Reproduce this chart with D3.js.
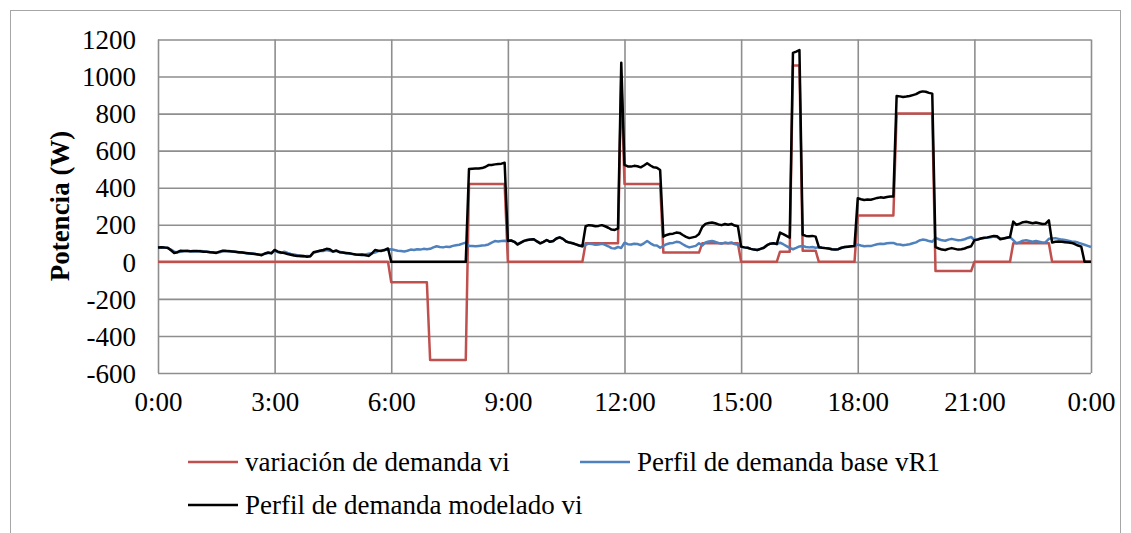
<!DOCTYPE html>
<html>
<head>
<meta charset="utf-8">
<script src="https://cdn.jsdelivr.net/npm/d3@7/dist/d3.min.js"></script>
<style>
  body { margin: 0; background: #fff; }
  svg text { font-family: "Liberation Serif", "Times New Roman", Times, Tinos, "DejaVu Serif", serif; }
</style>
</head>
<body>
<svg></svg>
<script>
var screenWidth = 1131
var screenHeight = 533

// one value every 5 minutes, 0:00 .. 24:00 (12 values per row = one hour)
var minutes = d3.range(0, 1441, 5)

var variacion = [
  0,0,0,0,0,0,0,0,0,0,0,0,
  0,0,0,0,0,0,0,0,0,0,0,0,
  0,0,0,0,0,0,0,0,0,0,0,0,
  0,0,0,0,0,0,0,0,0,0,0,0,
  0,0,0,0,0,0,0,0,0,0,0,0,
  0,0,0,0,0,0,0,0,0,0,0,0,
  -110,-110,-110,-110,-110,-110,-110,-110,-110,-110,-110,-110,
  -530,-530,-530,-530,-530,-530,-530,-530,-530,-530,-530,-530,
  420,420,420,420,420,420,420,420,420,420,420,420,
  0,0,0,0,0,0,0,0,0,0,0,0,
  0,0,0,0,0,0,0,0,0,0,0,0,
  100,100,100,100,100,100,100,100,100,100,100,1000,
  420,420,420,420,420,420,420,420,420,420,420,420,
  50,50,50,50,50,50,50,50,50,50,50,50,
  100,100,100,100,100,100,100,100,100,100,100,100,
  0,0,0,0,0,0,0,0,0,0,0,0,
  55,55,55,55,1060,1060,1060,60,60,60,60,60,
  0,0,0,0,0,0,0,0,0,0,0,0,
  250,250,250,250,250,250,250,250,250,250,250,250,
  800,800,800,800,800,800,800,800,800,800,800,800,
  -50,-50,-50,-50,-50,-50,-50,-50,-50,-50,-50,-50,
  0,0,0,0,0,0,0,0,0,0,0,0,
  100,100,100,100,100,100,100,100,100,100,100,100,
  0,0,0,0,0,0,0,0,0,0,0,0,
  0
]

var perfilBase = [
  76,78,78,74,66,55,52,55,58,60,57,56,
  56,58,57,55,53,52,50,52,58,60,58,56,
  53,50,52,48,44,46,42,38,40,44,48,47,
  60,52,48,55,48,42,40,36,30,28,32,30,
  48,54,60,58,64,60,55,62,54,50,46,45,
  42,40,38,36,40,44,46,50,58,62,64,66,
  68,64,60,58,56,60,66,64,68,66,70,68,
  70,78,84,80,78,82,80,86,90,92,98,104,
  86,86,84,86,88,90,94,104,112,110,112,114,
  113,115,108,94,104,113,118,120,122,110,100,108,
  118,108,112,126,132,124,110,104,100,94,88,84,
  92,98,96,92,94,98,92,84,74,72,80,75,
  103,95,94,98,96,90,100,112,100,90,88,76,
  86,95,100,102,108,106,95,85,78,82,86,100,
  88,105,110,112,108,102,98,104,100,105,96,92,
  82,78,76,70,66,64,70,76,90,98,100,96,
  103,95,85,75,68,75,83,86,80,78,80,76,
  79,76,74,72,68,66,68,76,80,82,84,86,
  93,88,84,86,85,90,95,98,96,100,102,102,
  95,93,90,92,95,100,105,115,120,118,112,108,
  129,122,116,114,120,124,120,116,118,122,129,134,
  118,122,126,128,130,133,136,134,126,126,130,133,
  117,100,106,114,116,112,108,112,108,104,106,124,
  126,128,124,120,118,114,110,108,104,98,92,86,
  80
]

var perfilModelado = [
  78,79,77,76,62,48,52,60,58,58,57,58,
  58,57,55,54,52,50,48,55,60,58,57,56,
  54,52,50,48,46,44,42,40,36,45,50,46,
  64,55,50,47,42,38,34,32,33,31,28,30,
  52,56,60,64,70,68,56,60,52,50,48,46,
  43,40,38,40,36,32,45,64,60,59,64,72,
  0,0,0,0,0,0,0,0,0,0,0,0,
  0,0,0,0,0,0,0,0,0,0,0,0,
  501,503,504,504,506,512,522,523,526,528,530,535,
  113,115,108,94,104,113,118,120,122,110,100,108,
  118,108,112,126,132,124,110,104,100,94,88,84,
  192,198,196,192,194,198,192,184,174,172,180,1075,
  523,515,514,518,516,510,520,532,520,510,508,496,
  136,145,150,152,158,156,145,135,128,132,136,150,
  188,205,210,212,208,202,198,204,200,205,196,192,
  82,78,76,70,66,64,70,76,90,98,100,96,
  158,150,140,130,1128,1135,1143,146,140,138,140,136,
  79,76,74,72,68,66,68,76,80,82,84,86,
  343,338,334,336,335,340,345,348,346,350,352,352,
  895,893,890,892,895,900,905,915,920,918,912,908,
  79,72,66,64,70,74,70,66,68,72,79,84,
  116,120,126,130,132,136,140,138,122,126,130,134,
  217,200,206,214,216,212,208,212,208,204,206,224,
  104,108,110,108,106,104,102,96,88,82,0,0,
  0
]

var yTicks = [-600, -400, -200, 0, 200, 400, 600, 800, 1000, 1200]
var xTicks = [0, 180, 360, 540, 720, 900, 1080, 1260, 1440]
var xTickLabels = ["0:00", "3:00", "6:00", "9:00", "12:00", "15:00", "18:00", "21:00", "0:00"]

var series = [
  {name: "variación de demanda vi", values: variacion, color: "#c0504d"},
  {name: "Perfil de demanda base vR1", values: perfilBase, color: "#4f81bd"},
  {name: "Perfil de demanda modelado vi", values: perfilModelado, color: "#000000"}
]

var gridColor = "#8e8e8e"
var fontSize = 27
var serif = '"Liberation Serif", "Times New Roman", Times, Tinos, "DejaVu Serif", serif'

var svg = d3.select('svg')
svg.attr("width", screenWidth)
svg.attr("height", screenHeight)

// outer chart frame
svg.append("rect")
  .attr("x", 10.5).attr("y", 10.5)
  .attr("width", 1110).attr("height", 600)
  .attr("fill", "none")
  .attr("stroke", "#a6a6a6")
  .attr("stroke-width", 1)

var plotLeft = 158, plotRight = 1091, plotTop = 39.5, plotBottom = 373

var x = d3.scaleLinear().domain([0, 1440]).range([plotLeft, plotRight])
var y = d3.scaleLinear().domain([-600, 1200]).range([plotBottom, plotTop])

// horizontal grid + y labels
var yAxis = d3.axisLeft(y)
  .tickValues(yTicks)
  .tickSize(-(plotRight - plotLeft))
  .tickPadding(22)
  .tickFormat(function(d){ return String(d) })

var gy = svg.append("g")
  .attr("transform", "translate(" + plotLeft + ",0)")
  .call(yAxis)
gy.attr("font-family", serif).attr("font-size", fontSize)
gy.select(".domain").remove()
gy.selectAll("line").attr("stroke", gridColor).attr("stroke-width", 1.6)
gy.selectAll("text").attr("fill", "#000").attr("dy", "0.34em")

// vertical grid + x labels
var xAxis = d3.axisBottom(x)
  .tickValues(xTicks)
  .tickSize(-(plotBottom - plotTop))
  .tickPadding(19)
  .tickFormat(function(d, i){ return xTickLabels[i] })

var gx = svg.append("g")
  .attr("transform", "translate(0," + plotBottom + ")")
  .call(xAxis)
gx.attr("font-family", serif).attr("font-size", fontSize)
gx.select(".domain").remove()
gx.selectAll("line").attr("stroke", gridColor).attr("stroke-width", 1.6)
gx.selectAll("text").attr("fill", "#000")

// axis title
svg.append("text")
  .attr("transform", "translate(60,206) rotate(-90)")
  .attr("text-anchor", "middle")
  .attr("dominant-baseline", "central")
  .attr("font-family", serif)
  .attr("font-size", fontSize)
  .attr("font-weight", "bold")
  .text("Potencia (W)")

var line = d3.line()
  .x(function(d, i){ return x(minutes[i]) })
  .y(function(d){ return y(d) })

for (var s of series) {
  svg.append("path")
    .datum(s.values)
    .attr("fill", "none")
    .attr("stroke", s.color)
    .attr("stroke-width", 2.5)
    .attr("stroke-linejoin", "round")
    .attr("d", line)
}

// legend
var legendPos = [
  {x: 188, y: 462},
  {x: 580, y: 462},
  {x: 188, y: 505}
]

series.forEach(function(s, i){
  var p = legendPos[i]
  svg.append("line")
    .attr("x1", p.x).attr("x2", p.x + 50)
    .attr("y1", p.y).attr("y2", p.y)
    .attr("stroke", s.color)
    .attr("stroke-width", 2.5)
  svg.append("text")
    .attr("x", p.x + 57)
    .attr("y", p.y)
    .attr("dy", "0.35em")
    .attr("font-family", serif)
    .attr("font-size", fontSize)
    .text(s.name)
})
</script>
</body>
</html>
